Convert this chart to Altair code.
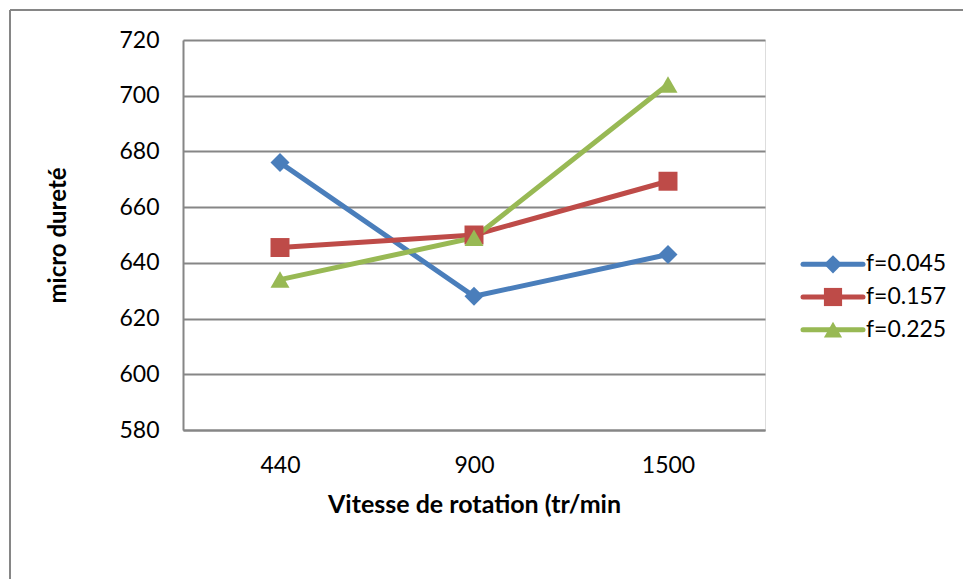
import altair as alt
import pandas as pd

vitesses = ["440", "900", "1500"]
series = ["f=0.045", "f=0.157", "f=0.225"]
v_045 = [676, 628, 643]
v_157 = [645.5, 650, 669.3]
v_225 = [634, 649, 704]
colors = ["#4A7EBB", "#BE4B48", "#98B954"]
shapes = ["diamond", "square", "triangle-up"]

rows = []
for s, vals in zip(series, [v_045, v_157, v_225]):
    for i, (v, val) in enumerate(zip(vitesses, vals)):
        rows.append({"vitesse": v, "ordre": i, "serie": s, "durete": val})
df = pd.DataFrame(rows)
leg = pd.DataFrame({"serie": series})

FONT = "Lato"
color_scale = alt.Scale(domain=series, range=colors)
shape_scale = alt.Scale(domain=series, range=shapes)

x_enc = alt.X("vitesse:O", sort=vitesses, title="Vitesse de rotation (tr/min",
              scale=alt.Scale(paddingOuter=0.5, paddingInner=0),
              axis=alt.Axis(labelAngle=0, ticks=False, domain=True, domainColor="#868686",
                            domainWidth=2, labelFontSize=23, labelPadding=24, labelFont=FONT,
                            labelColor="#000", titleFont=FONT, titleFontSize=25,
                            titleFontWeight="bold", titlePadding=15, titleColor="#000", grid=False))
y_enc = alt.Y("durete:Q", title="micro dureté",
              scale=alt.Scale(domain=[580, 720], nice=False, zero=False),
              axis=alt.Axis(values=list(range(580, 721, 20)), ticks=False, domain=True,
                            domainColor="#868686",
                            domainWidth=2, grid=True, gridColor="#868686", gridWidth=2,
                            labelFontSize=23, labelPadding=24, labelFont=FONT, labelColor="#000",
                            titleFont=FONT, titleFontSize=24, titleFontWeight="bold",
                            titlePadding=48, titleColor="#000"))

base = alt.Chart(df)
lines = base.mark_line(strokeWidth=5).encode(
    x=x_enc, y=y_enc,
    color=alt.Color("serie:N", scale=color_scale, legend=None),
    detail="serie:N", order="ordre:Q")
points = base.mark_point(filled=True, opacity=1, size=360).encode(
    x=x_enc, y=y_enc,
    color=alt.Color("serie:N", scale=color_scale, legend=None),
    shape=alt.Shape("serie:N", scale=shape_scale, legend=None))
data_layer = alt.layer(lines, points)

ly = alt.Y("serie:N", sort=series,
           scale=alt.Scale(domain=series, range=[208, 306], padding=0), axis=None)
lbase = alt.Chart(leg)
leg_rule = lbase.mark_rule(strokeWidth=5, strokeCap="round").encode(
    x=alt.value(620), x2=alt.value(680), y=ly,
    color=alt.Color("serie:N", scale=color_scale, legend=None))
leg_pt = lbase.mark_point(filled=True, opacity=1, size=330).encode(
    x=alt.value(650), y=ly,
    color=alt.Color("serie:N", scale=color_scale, legend=None),
    shape=alt.Shape("serie:N", scale=shape_scale, legend=None))
leg_txt = lbase.mark_text(align="left", baseline="middle", font=FONT, fontSize=23, color="#000").encode(
    x=alt.value(683), y=ly, text="serie:N")
legend_layer = alt.layer(leg_rule, leg_pt, leg_txt)

frame = alt.Chart(pd.DataFrame({"k": [0]}))
left_border = frame.mark_rule(color="#868686", strokeWidth=2).encode(
    x=alt.value(-173), y=alt.value(-30), y2=alt.value(560))
top_border = frame.mark_rule(color="#868686", strokeWidth=2).encode(
    x=alt.value(-173), x2=alt.value(800), y=alt.value(-30))
frame_layer = alt.layer(left_border, top_border)

chart = alt.layer(
    frame_layer,
    data_layer,
    legend_layer,
).resolve_scale(y="independent").properties(
    width=582, height=390,
    padding={"left": 183, "top": 40, "right": 198, "bottom": 149},
    autosize=alt.AutoSizeParams(type="none"),
).configure_view(stroke="transparent", strokeOpacity=0).configure_axis(
    domain=False, grid=False, ticks=False
).configure(background="white")

chart.save("out.html", embed_options={"renderer": "svg", "actions": False})
